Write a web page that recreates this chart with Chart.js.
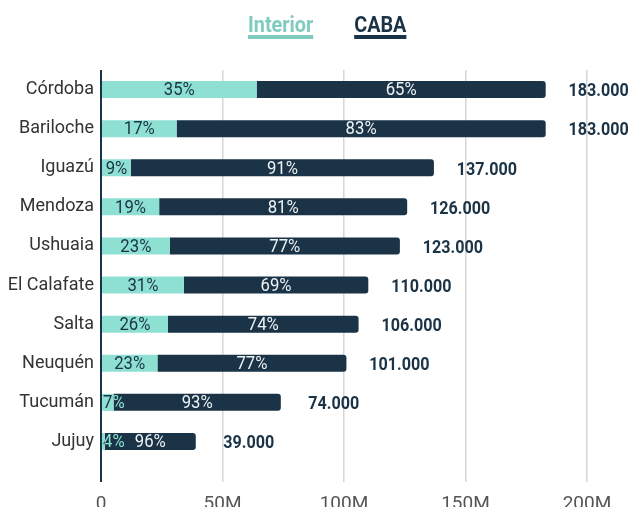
<!DOCTYPE html>
<html><head><meta charset="utf-8">
<script src="https://cdn.jsdelivr.net/npm/chart.js@4.4.1/dist/chart.umd.min.js"></script>
<style>
html,body{margin:0;padding:0;background:#fff;overflow:hidden}
#wrap{position:relative;width:632px;height:541px}
</style>
</head><body>
<div id="wrap"><canvas id="c"></canvas></div>
<script>
const categories = ['Córdoba','Bariloche','Iguazú','Mendoza','Ushuaia','El Calafate','Salta','Neuquén','Tucumán','Jujuy'];
const interiorValues = [64050,31110,12330,23940,28290,34100,27560,23230,5180,1560];
const cabaValues = [118950,151890,124670,102060,94710,75900,78440,77770,68820,37440];
const interiorPct = [35,17,9,19,23,31,26,23,7,4];
const cabaPct = [65,83,91,81,77,69,74,77,93,96];
const xTicks = [0,50000,100000,150000,200000];
const seriesNames = ['Interior','CABA'];
const barColors = ['#8ee0d3','#1a3346'];
const legendColors = ['#7fcbbf','#1a3346'];

const FONT = 'Roboto, "DejaVu Sans Condensed", sans-serif';

function fmtThousands(n){
  return String(Math.round(n)).replace(/\B(?=(\d{3})+(?!\d))/g, '.');
}

// draw horizontally condensed text (reference uses a condensed face)
function condText(ctx, text, x, y, sx){
  ctx.save();
  ctx.translate(x, y);
  ctx.scale(sx, 1);
  ctx.fillText(text, 0, 0);
  ctx.restore();
}

const labelPlugin = {
  id: 'barLabels',
  afterDatasetsDraw(chart){
    const ctx = chart.ctx;
    const m0 = chart.getDatasetMeta(0), m1 = chart.getDatasetMeta(1);
    const SX = 0.88;
    ctx.save();
    ctx.textBaseline = 'middle';
    ctx.textAlign = 'center';
    categories.forEach((c, i) => {
      const b0 = m0.data[i], b1 = m1.data[i];
      ctx.font = '400 19px ' + FONT;
      const t0 = interiorPct[i] + '%';
      const w0 = ctx.measureText(t0).width * SX;
      let x0 = (b0.base + b0.x) / 2;
      x0 = Math.max(x0, b0.base + w0 / 2 + 1);
      ctx.save();
      ctx.beginPath(); ctx.rect(b0.base - 2, 0, b0.x - b0.base + 2, chart.height); ctx.clip();
      ctx.fillStyle = '#1a3346';
      condText(ctx, t0, x0, b0.y + 1, SX);
      ctx.restore();
      ctx.save();
      ctx.beginPath(); ctx.rect(b0.x, 0, chart.width, chart.height); ctx.clip();
      ctx.fillStyle = barColors[0];
      condText(ctx, t0, x0, b0.y + 1, SX);
      ctx.restore();
      const t1 = cabaPct[i] + '%';
      ctx.fillStyle = '#eef3f5';
      condText(ctx, t1, (b1.base + b1.x) / 2, b1.y + 1, SX);
      ctx.font = '700 19px ' + FONT;
      ctx.fillStyle = '#1a3346';
      const total = interiorValues[i] + cabaValues[i];
      condText(ctx, fmtThousands(total), b1.x + 53, b1.y + 2, 0.85);
    });
    ctx.restore();
  }
};

const legendPlugin = {
  id: 'topLegend',
  afterDraw(chart){
    const ctx = chart.ctx;
    const SX = 0.9;
    ctx.save();
    ctx.font = '700 22px ' + FONT;
    ctx.textBaseline = 'alphabetic';
    ctx.textAlign = 'left';
    let x = 248;
    chart.data.datasets.forEach((ds, i) => {
      const w = ctx.measureText(ds.label).width * SX;
      ctx.fillStyle = legendColors[i];
      condText(ctx, ds.label, x, 32, SX);
      ctx.fillRect(x, 35, w, 4);
      x += w + 41;
    });
    ctx.restore();
  }
};

new Chart(document.getElementById('c'), {
  type: 'bar',
  data: {
    labels: categories,
    datasets: [
      { label: seriesNames[0], data: interiorValues, backgroundColor: barColors[0],
        barPercentage: 0.435, categoryPercentage: 1, borderRadius: 0 },
      { label: seriesNames[1], data: cabaValues, backgroundColor: barColors[1],
        barPercentage: 0.435, categoryPercentage: 1, borderRadius: 3, borderSkipped: 'start' }
    ]
  },
  options: {
    indexAxis: 'y',
    responsive: true,
    maintainAspectRatio: false,
    animation: false,
    layout: { padding: { top: 70, right: 45, left: 0, bottom: 0 } },
    plugins: { legend: { display: false }, tooltip: { enabled: false } },
    scales: {
      x: {
        stacked: true,
        min: 0, max: 200000,
        afterBuildTicks(scale){ scale.ticks = xTicks.map(v => ({ value: v })); },
        afterFit(scale){ scale.height = 80; },
        border: { display: false },
        grid: {
          drawOnChartArea: true, drawTicks: true, tickLength: 21,
          color: c => (c.tick && c.tick.value === 0) ? '#1a3346' : '#d6d6d6',
          lineWidth: c => (c.tick && c.tick.value === 0) ? 2 : 1.5
        },
        ticks: {
          padding: 11,
          color: '#555',
          font: { family: FONT, size: 19 },
          callback: v => v === 0 ? '0' : (v / 1000) + 'M'
        }
      },
      y: {
        stacked: true,
        afterFit(scale){ scale.width = 101; },
        border: { display: false },
        grid: { display: false, drawTicks: false },
        ticks: { padding: 7, color: '#333', font: { family: FONT, size: 18 } }
      }
    }
  },
  plugins: [labelPlugin, legendPlugin]
});
</script>
</body></html>
